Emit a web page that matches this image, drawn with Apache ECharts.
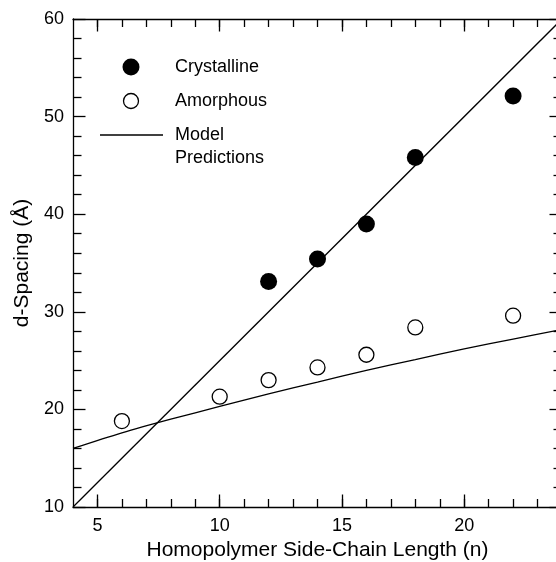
<!DOCTYPE html>
<html>
<head>
<meta charset="utf-8">
<script src="https://cdn.jsdelivr.net/npm/echarts@6/dist/echarts.min.js"></script>
<style>
  html, body { margin: 0; padding: 0; background: #fff; }
  #chart { width: 556px; height: 562px; }
</style>
</head>
<body>
<div id="chart"></div>
<script>
// measured points
const crystN = [12, 14, 16, 18, 22];
const crystD = [33.1, 35.4, 39.0, 45.8, 52.1];
const amorN = [6, 10, 12, 14, 16, 18, 22];
const amorD = [18.8, 21.3, 23.0, 24.3, 25.6, 28.4, 29.6];

// model prediction curves
const crystModelN = [4, 24];
const crystModelD = [10, 60];
const amorModelN = [4, 6, 8, 10, 12, 14, 16, 18, 20, 22, 24];
const amorModelD = [16.0, 17.6, 19.0, 20.3, 21.6, 22.8, 24.0, 25.1, 26.2, 27.2, 28.2];

// axis ticks
const xMajor = [5, 10, 15, 20];
const xMinor = [5, 6, 7, 8, 9, 10, 11, 12, 13, 14, 15, 16, 17, 18, 19, 20, 21, 22, 23];

const legendNames = ["Crystalline", "Amorphous", "Model", "Predictions"];

const FONT = "Liberation Sans, Arial, Helvetica, sans-serif";

function pairs(xs, ys) {
  return xs.map((x, i) => [x, ys[i]]);
}

const chart = echarts.init(document.getElementById("chart"), null, { renderer: "canvas" });

const lineStyle = { color: "#000", width: 1.3 };

function xAxisBase(pos, ticks, len, showLine, showLabel) {
  return {
    type: "value",
    position: pos,
    min: 4,
    max: 24,
    axisLine: { show: showLine, lineStyle: lineStyle },
    axisTick: { show: true, inside: true, length: len, customValues: ticks, lineStyle: lineStyle },
    axisLabel: showLabel
      ? { show: true, customValues: xMajor, margin: 10, color: "#000", fontSize: 18, fontFamily: FONT }
      : { show: false },
    splitLine: { show: false }
  };
}

function yAxisBase(pos, showLabel) {
  return {
    type: "value",
    position: pos,
    min: 10,
    max: 60,
    interval: 10,
    axisLine: { show: true, lineStyle: lineStyle },
    axisTick: { show: true, inside: true, length: 12.5, lineStyle: lineStyle },
    minorTick: { show: true, splitNumber: 5, length: 8.5, lineStyle: lineStyle },
    axisLabel: showLabel
      ? { show: true, margin: 9, color: "#000", fontSize: 18, fontFamily: FONT }
      : { show: false },
    splitLine: { show: false },
    minorSplitLine: { show: false }
  };
}

const xMain = xAxisBase("bottom", xMajor, 12.5, true, true);
xMain.name = "Homopolymer Side-Chain Length (n)";
xMain.nameLocation = "middle";
xMain.nameGap = 32;
xMain.nameTextStyle = { color: "#000", fontSize: 21, fontFamily: FONT };

const yMain = yAxisBase("left", true);
yMain.name = "d-Spacing (Å)";
yMain.nameLocation = "middle";
yMain.nameGap = 40;
yMain.nameTextStyle = { color: "#000", fontSize: 21, fontFamily: FONT };

const option = {
  animation: false,
  backgroundColor: "#fff",
  grid: { left: 73, top: 19, right: -6, bottom: 55, outerBoundsMode: "none", containLabel: false },
  xAxis: [
    xMain,
    xAxisBase("bottom", xMinor, 8, false, false),
    xAxisBase("top", xMajor, 12.5, true, false),
    xAxisBase("top", xMinor, 8, false, false)
  ],
  yAxis: [yMain, yAxisBase("right", false)],
  series: [
    {
      name: "Model Predictions",
      type: "line",
      data: pairs(crystModelN, crystModelD),
      showSymbol: false,
      symbol: "none",
      lineStyle: { color: "#000", width: 1.3 },
      z: 2
    },
    {
      name: "Model Predictions (amorphous)",
      type: "line",
      data: pairs(amorModelN, amorModelD),
      showSymbol: false,
      symbol: "none",
      smooth: 0.3,
      lineStyle: { color: "#000", width: 1.3 },
      z: 2
    },
    {
      name: "Crystalline",
      type: "scatter",
      data: pairs(crystN, crystD),
      symbol: "circle",
      symbolSize: 17,
      itemStyle: { color: "#000", opacity: 1 },
      z: 3
    },
    {
      name: "Amorphous",
      type: "scatter",
      data: pairs(amorN, amorD),
      symbol: "circle",
      symbolSize: 15,
      itemStyle: { color: "#fff", borderColor: "#000", borderWidth: 1.3, opacity: 1 },
      z: 3
    }
  ],
  // legend drawn by hand to match the original layout
  graphic: [
    { type: "circle", shape: { cx: 131, cy: 67, r: 8.5 }, style: { fill: "#000" } },
    { type: "text", x: 175, y: 67, style: { text: legendNames[0], font: "18px " + FONT, fill: "#000", verticalAlign: "middle" } },
    { type: "circle", shape: { cx: 131, cy: 101, r: 7.5 }, style: { fill: "#fff", stroke: "#000", lineWidth: 1.3 } },
    { type: "text", x: 175, y: 101, style: { text: legendNames[1], font: "18px " + FONT, fill: "#000", verticalAlign: "middle" } },
    { type: "line", shape: { x1: 100, y1: 135, x2: 163, y2: 135 }, style: { stroke: "#000", lineWidth: 1.3 } },
    { type: "text", x: 175, y: 135, style: { text: legendNames[2], font: "18px " + FONT, fill: "#000", verticalAlign: "middle" } },
    { type: "text", x: 175, y: 158, style: { text: legendNames[3], font: "18px " + FONT, fill: "#000", verticalAlign: "middle" } }
  ]
};

chart.setOption(option);
</script>
</body>
</html>
